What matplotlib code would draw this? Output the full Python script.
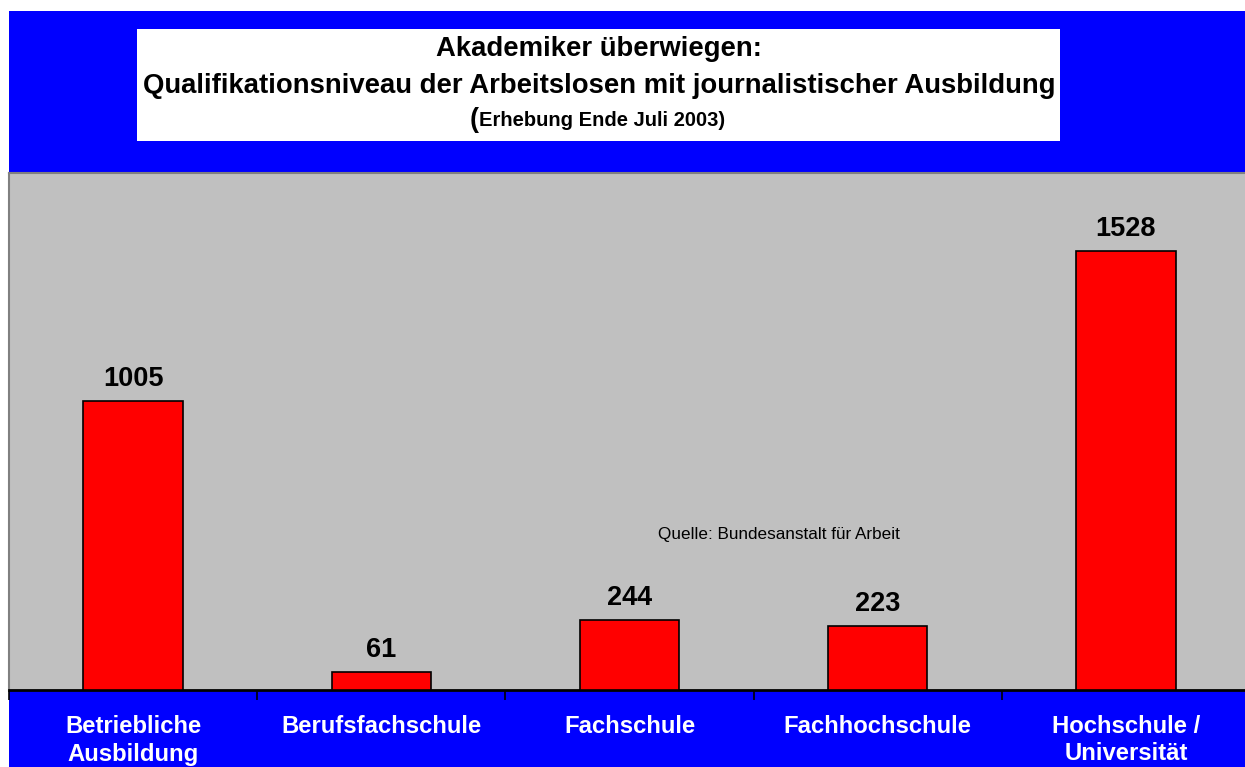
import matplotlib.pyplot as plt
from matplotlib.patches import Rectangle

# Daten
kategorien = ['Betriebliche\nAusbildung', 'Berufsfachschule', 'Fachschule',
              'Fachhochschule', 'Hochschule /\nUniversität']
werte = [1005, 61, 244, 223, 1528]

plt.rcParams['font.family'] = ['Liberation Sans', 'DejaVu Sans']

W, H = 1245, 767
fig = plt.figure(figsize=(W / 100, H / 100), dpi=100, facecolor='white')

# blauer Hintergrund + weisse Titelbox (hinter den Achsen)
fig.patches.append(Rectangle((9 / W, 0), 1 - 9 / W, 1 - 11 / H, transform=fig.transFigure,
                             facecolor='#0000FF', edgecolor='none', zorder=-2))
fig.patches.append(Rectangle((137 / W, 1 - 141 / H), 923 / W, 112 / H, transform=fig.transFigure,
                             facecolor='white', edgecolor='none', zorder=-1))

cx = 599 / W
fig.text(cx, 1 - 49 / H, 'Akademiker überwiegen:', ha='center', va='center',
         fontsize=19.8, fontweight='bold')
fig.text(cx, 1 - 86 / H, 'Qualifikationsniveau der Arbeitslosen mit journalistischer Ausbildung',
         ha='center', va='center', fontsize=19.8, fontweight='bold')
fig.text(479 / W, 1 - 120 / H, '(', ha='right', va='center', fontsize=19.5, fontweight='bold')
fig.text(479 / W, 1 - 121 / H, 'Erhebung Ende Juli 2003)', ha='left', va='center',
         fontsize=14.5, fontweight='bold')

# Diagrammbereich
ax = fig.add_axes([9 / W, 1 - 690 / H, (1250 - 9) / W, (690 - 173) / H])
ax.set_facecolor('#C0C0C0')
x = list(range(len(werte)))
bars = ax.bar(x, werte, width=0.4, color='#FF0000', edgecolor='black', linewidth=1.2, zorder=3)
ax.bar_label(bars, labels=[str(v) for v in werte], padding=6.5, fontsize=19.5, fontweight='bold')

ax.set_xlim(-0.5, len(werte) - 0.5)
ax.set_ylim(0, 1800)
ax.set_yticks([])

# Trennstriche zwischen Kategorien, Beschriftung dazwischen
ax.set_xticks([i - 0.5 for i in range(len(werte) + 1)])
ax.set_xticklabels([])
ax.tick_params(axis='x', which='major', direction='out', length=7, width=1.2, color='black')
ax.set_xticks(x, minor=True)
ax.set_xticklabels(kategorien, minor=True, color='white', fontsize=17.2, fontweight='bold',
                   linespacing=1.25, va='top')
ax.tick_params(axis='x', which='minor', length=0, pad=18)

for s in ['top', 'left', 'right']:
    ax.spines[s].set_color('#808080')
    ax.spines[s].set_linewidth(1.5)
ax.spines['bottom'].set_color('black')
ax.spines['bottom'].set_linewidth(2)

fig.text(658 / W, 1 - 535 / H, 'Quelle: Bundesanstalt für Arbeit', fontsize=12.3,
         ha='left', va='center')

fig.savefig('out.png', dpi=100, facecolor='white')
